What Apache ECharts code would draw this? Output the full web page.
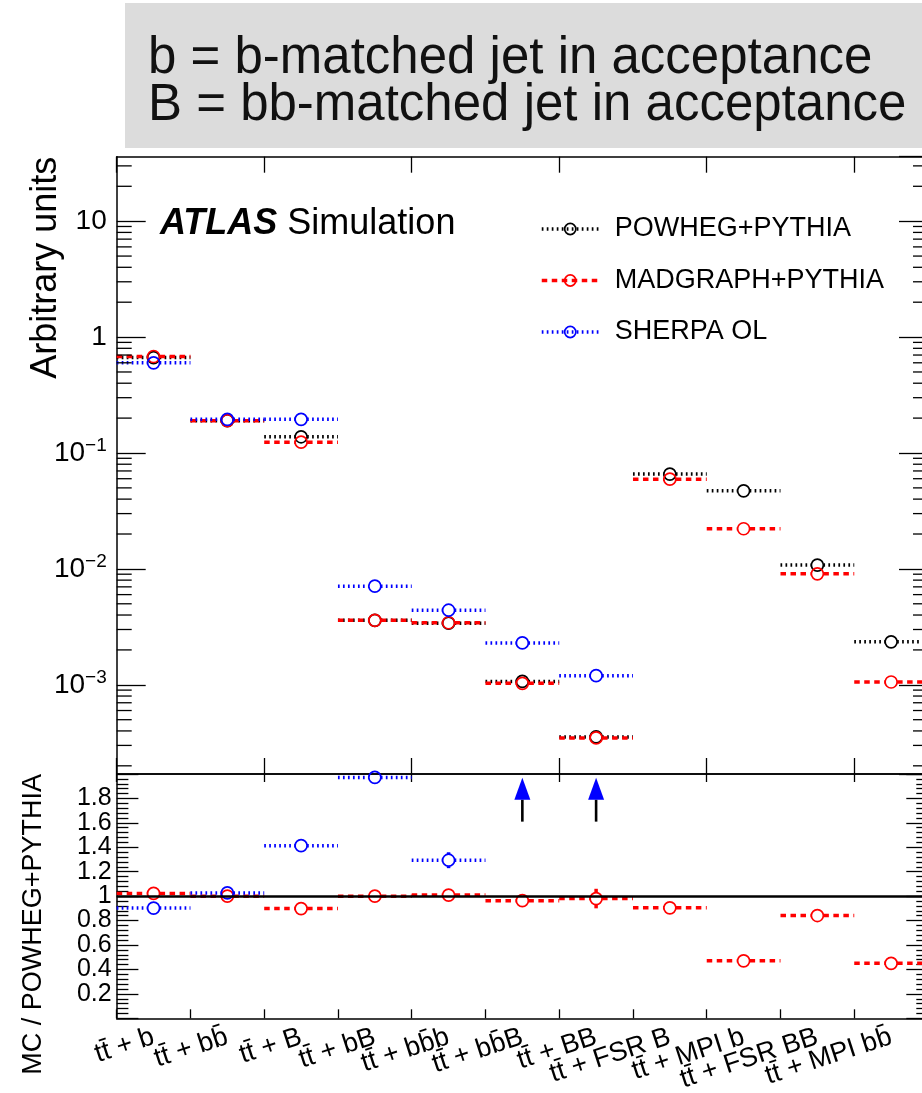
<!DOCTYPE html>
<html>
<head>
<meta charset="utf-8">
<script src="https://cdn.jsdelivr.net/npm/echarts@6/dist/echarts.min.js"></script>
<style>
  html, body { margin: 0; padding: 0; background: #fff; }
  #chart { width: 922px; height: 1093px; }
</style>
</head>
<body>
<div id="chart"></div>
<script>
// Event categories (x bins)
const categories = [
  'tt\u0304 + b', 'tt\u0304 + bb\u0304', 'tt\u0304 + B', 'tt\u0304 + bB',
  'tt\u0304 + bb\u0304b', 'tt\u0304 + bb\u0304B', 'tt\u0304 + BB',
  'tt\u0304 + FSR B', 'tt\u0304 + MPI b', 'tt\u0304 + FSR BB', 'tt\u0304 + MPI bb\u0304'
];

// Fractions per category (arbitrary units)
const powhegPythia   = [0.665, 0.190, 0.138, 0.0036, 0.0034,  0.00107, 0.000355, 0.0658, 0.0472, 0.01078, 0.00235];
const madgraphPythia = [0.680, 0.190, 0.124, 0.0036, 0.00343, 0.00103, 0.000348, 0.0595, 0.0222, 0.00907, 0.001057];
const sherpaOL       = [0.600, 0.195, 0.195, 0.0071, 0.0044,  0.0023,  0.0012,   null,   null,   null,    null];

// Uncertainties on the MC / POWHEG+PYTHIA ratio
const madgraphRatioErr = [0.01, 0.01, 0.01, 0.01, 0.01, 0.02, 0.08, 0.01, 0.01, 0.01, 0.01];
const sherpaRatioErr   = [0.01, 0.01, 0.02, 0.05, 0.065, 0.05, 0.05, 0, 0, 0, 0];

// Legend entries
const legendNames = ['POWHEG+PYTHIA', 'MADGRAPH+PYTHIA', 'SHERPA OL'];

// Banner lines
const bannerLines = ['b = b-matched jet in acceptance', 'B = bb-matched jet in acceptance'];

// Axis ranges
const logMin = 1.7e-4, logMax = 36;
const ratioMin = 0, ratioMax = 2, ratioStep = 0.2;

const FONT = 'Liberation Sans, Arial, Helvetica, sans-serif';
const BLACK = '#000000', RED = '#ff0000', BLUE = '#0000ff';
const DOTTED = [1.7, 3.3], DASHED = [5.5, 4.5];
const MARKER_R = 6;

// Panel geometry
const GX = 116.7, GW = 811.3;
const TOP_Y = 156.7, TOP_H = 617.3;
const RAT_Y = 774, RAT_H = 244.3;

// Arrow (off-scale ratio) geometry in ratio units
const arrowFrom = 1.61, arrowNeck = 1.79, arrowTip = 1.97;

function ratioOf(arr) {
  return arr.map((v, i) => (v == null ? null : v / powhegPythia[i]));
}

// Horizontal bin line with an open circle marker at the bin centre
function binRenderer(color, dash, lineWidth) {
  return function (params, api) {
    const v = api.value(1);
    if (v == null || isNaN(v)) return null;
    const i = api.value(0);
    const c = api.coord([i, v]);
    const half = api.size([1, 0])[0] / 2;
    const r = MARKER_R;
    const lineStyle = { stroke: color, lineWidth: lineWidth, lineDash: dash, lineCap: 'butt', fill: null };
    const children = [
      { type: 'line', shape: { x1: c[0] - half, y1: c[1], x2: c[0] - r, y2: c[1] }, style: lineStyle },
      { type: 'line', shape: { x1: c[0] + r, y1: c[1], x2: c[0] + half, y2: c[1] }, style: lineStyle }
    ];
    const err = api.value(2);
    if (err > 0) {
      const yHi = api.coord([i, v + err])[1];
      const yLo = api.coord([i, v - err])[1];
      const es = { stroke: color, lineWidth: lineWidth, fill: null };
      if (c[1] - yHi > r) children.push({ type: 'line', shape: { x1: c[0], y1: yHi, x2: c[0], y2: c[1] - r }, style: es });
      if (yLo - c[1] > r) children.push({ type: 'line', shape: { x1: c[0], y1: c[1] + r, x2: c[0], y2: yLo }, style: es });
    }
    children.push({ type: 'circle', shape: { cx: c[0], cy: c[1], r: r }, style: { stroke: color, lineWidth: 1.7, fill: 'none' } });
    return { type: 'group', children: children };
  };
}

// Log-axis minor ticks (2..9 x 10^k) on both sides of the upper panel
function logMinorTicks(params, api) {
  const cs = params.coordSys;
  const children = [];
  const st = { stroke: BLACK, lineWidth: 1.3 };
  for (let k = -5; k <= 2; k++) {
    for (let m = 2; m <= 9; m++) {
      const v = m * Math.pow(10, k);
      if (v <= logMin || v >= logMax) continue;
      const y = api.coord([0, v])[1];
      children.push({ type: 'line', shape: { x1: cs.x, y1: y, x2: cs.x + 15, y2: y }, style: st });
      children.push({ type: 'line', shape: { x1: cs.x + cs.width, y1: y, x2: cs.x + cs.width - 15, y2: y }, style: st });
    }
  }
  return { type: 'group', children: children };
}

// Arrow for ratios above the panel range
function arrowRenderer(params, api) {
  const i = api.value(0);
  const base = api.coord([i, arrowFrom]);
  const neck = api.coord([i, arrowNeck]);
  const tip = api.coord([i, arrowTip]);
  return {
    type: 'group',
    children: [
      { type: 'line', shape: { x1: base[0], y1: base[1], x2: neck[0], y2: neck[1] }, style: { stroke: BLACK, lineWidth: 2.6 } },
      { type: 'polygon', shape: { points: [[tip[0], tip[1]], [neck[0] - 8, neck[1]], [neck[0] + 8, neck[1]]] }, style: { fill: BLUE } }
    ]
  };
}

function logLabel(v) {
  const e = Math.round(Math.log10(v));
  if (e === 0) return '{base|1}';
  if (e === 1) return '{base|10}';
  return '{base|10}{sup|' + (e < 0 ? '\u2212' : '') + Math.abs(e) + '}';
}

const madRatio = ratioOf(madgraphPythia);
const sherpaRatio = ratioOf(sherpaOL);

const axisLineStyle = { color: BLACK, width: 1.5 };
const tickStyle = { color: BLACK, width: 1.3 };

const catAxisBase = {
  type: 'category',
  data: categories,
  boundaryGap: true,
  axisLine: { show: true, onZero: false, lineStyle: axisLineStyle },
  axisTick: { show: true, inside: true, alignWithLabel: false, lineStyle: tickStyle },
  axisLabel: { show: false },
  splitLine: { show: false }
};

const option = {
  animation: false,
  backgroundColor: '#ffffff',
  textStyle: { fontFamily: FONT, color: BLACK },
  title: {
    left: 160, top: 204, padding: 0,
    text: '{a|ATLAS}{b| Simulation}',
    textStyle: {
      fontWeight: 'normal',
      rich: {
        a: { fontFamily: FONT, fontSize: 36, fontWeight: 'bold', fontStyle: 'italic', color: BLACK, lineHeight: 40 },
        b: { fontFamily: FONT, fontSize: 36, fontWeight: 'normal', color: BLACK, lineHeight: 40 }
      }
    }
  },
  legend: {
    left: 540, top: 214, orient: 'vertical', padding: 0,
    itemWidth: 57, itemHeight: 14, itemGap: 21.5,
    selectedMode: false,
    textStyle: { fontFamily: FONT, fontSize: 27, color: BLACK, padding: [0, 0, 0, 11], lineHeight: 30 },
    data: [
      { name: legendNames[0], itemStyle: { color: 'rgba(0,0,0,0)', borderColor: BLACK, borderWidth: 1.7 },
        lineStyle: { color: BLACK, width: 3.5, type: DOTTED, cap: 'butt' } },
      { name: legendNames[1], itemStyle: { color: 'rgba(0,0,0,0)', borderColor: RED, borderWidth: 1.7 },
        lineStyle: { color: RED, width: 3.5, type: DASHED, cap: 'butt' } },
      { name: legendNames[2], itemStyle: { color: 'rgba(0,0,0,0)', borderColor: BLUE, borderWidth: 1.7 },
        lineStyle: { color: BLUE, width: 3.5, type: DOTTED, cap: 'butt' } }
    ]
  },
  graphic: [
    { type: 'rect', left: 125, top: 3, z: -10, shape: { width: 810, height: 145 }, style: { fill: '#dcdcdc' } },
    { type: 'text', x: 148, y: 59,
      style: { text: bannerLines[0], font: '51px ' + FONT, fill: '#111', verticalAlign: 'middle', align: 'left' } },
    { type: 'text', x: 148, y: 106,
      style: { text: bannerLines[1], font: '51px ' + FONT, fill: '#111', verticalAlign: 'middle', align: 'left' } }
  ],
  grid: [
    { left: GX, top: TOP_Y, width: GW, height: TOP_H, containLabel: false, outerBoundsMode: 'none' },
    { left: GX, top: RAT_Y, width: GW, height: RAT_H, containLabel: false, outerBoundsMode: 'none' }
  ],
  xAxis: [
    Object.assign({}, catAxisBase, { gridIndex: 0, position: 'bottom', axisTick: Object.assign({}, catAxisBase.axisTick, { length: 16 }) }),
    Object.assign({}, catAxisBase, { gridIndex: 0, position: 'top', axisTick: Object.assign({}, catAxisBase.axisTick, { length: 16 }) }),
    Object.assign({}, catAxisBase, {
      gridIndex: 1, position: 'bottom',
      axisTick: Object.assign({}, catAxisBase.axisTick, { length: 9 }),
      axisLabel: { show: true, interval: 0, rotate: 18, margin: 18, fontFamily: FONT, fontSize: 27, color: BLACK, hideOverlap: false }
    }),
    Object.assign({}, catAxisBase, { gridIndex: 1, position: 'top', axisTick: Object.assign({}, catAxisBase.axisTick, { length: 8 }) })
  ],
  yAxis: [
    {
      gridIndex: 0, type: 'log', logBase: 10, min: logMin, max: logMax, position: 'left',
      axisLine: { show: true, lineStyle: axisLineStyle },
      axisTick: { show: true, inside: true, length: 29, lineStyle: tickStyle },
      splitLine: { show: false },
      axisLabel: {
        show: true, margin: 10, showMinLabel: false, showMaxLabel: false,
        formatter: logLabel,
        rich: {
          base: { fontFamily: FONT, fontSize: 28, color: BLACK },
          sup: { fontFamily: FONT, fontSize: 19, color: BLACK, padding: [0, 0, 14, 0] }
        }
      },
      name: 'Arbitrary units', nameLocation: 'end', nameGap: 0, nameRotate: 90,
      nameTextStyle: { fontFamily: FONT, fontSize: 36, color: BLACK, align: 'right', verticalAlign: 'bottom', padding: [0, 0, 53, 0] }
    },
    {
      gridIndex: 0, type: 'log', logBase: 10, min: logMin, max: logMax, position: 'right',
      axisLine: { show: true, lineStyle: axisLineStyle },
      axisTick: { show: true, inside: true, length: 29, lineStyle: tickStyle },
      splitLine: { show: false }, axisLabel: { show: false }
    },
    {
      gridIndex: 1, type: 'value', min: ratioMin, max: ratioMax, interval: ratioStep, position: 'left',
      axisLine: { show: true, lineStyle: axisLineStyle },
      axisTick: { show: true, inside: true, length: 21.7, lineStyle: tickStyle },
      minorTick: { show: true, splitNumber: 5, length: 11.7, lineStyle: tickStyle },
      splitLine: { show: false }, minorSplitLine: { show: false },
      axisLabel: {
        show: true, margin: 5, showMinLabel: false, showMaxLabel: false,
        fontFamily: FONT, fontSize: 25, color: BLACK,
        formatter: (v) => String(Math.round(v * 10) / 10)
      },
      name: 'MC / POWHEG+PYTHIA', nameLocation: 'end', nameGap: 0, nameRotate: 90,
      nameTextStyle: { fontFamily: FONT, fontSize: 27, color: BLACK, align: 'right', verticalAlign: 'bottom', padding: [0, 0, 70, 0] }
    },
    {
      gridIndex: 1, type: 'value', min: ratioMin, max: ratioMax, interval: ratioStep, position: 'right',
      axisLine: { show: true, lineStyle: axisLineStyle },
      axisTick: { show: true, inside: true, length: 21.7, lineStyle: tickStyle },
      minorTick: { show: true, splitNumber: 5, length: 11.7, lineStyle: tickStyle },
      splitLine: { show: false }, minorSplitLine: { show: false },
      axisLabel: { show: false }
    }
  ],
  series: [
    // legend carriers
    { type: 'line', name: legendNames[0], xAxisIndex: 0, yAxisIndex: 0, data: [], symbol: 'circle' },
    { type: 'line', name: legendNames[1], xAxisIndex: 0, yAxisIndex: 0, data: [], symbol: 'circle' },
    { type: 'line', name: legendNames[2], xAxisIndex: 0, yAxisIndex: 0, data: [], symbol: 'circle' },
    {
      type: 'custom', name: 'log-minor-ticks', xAxisIndex: 0, yAxisIndex: 0, silent: true, z: 5,
      data: [[0, 1]], renderItem: logMinorTicks
    },
    {
      type: 'custom', name: 'powheg-bins', xAxisIndex: 0, yAxisIndex: 0, silent: true, z: 2,
      data: powhegPythia.map((v, i) => [i, v, 0]), renderItem: binRenderer(BLACK, DOTTED, 3.5)
    },
    {
      type: 'custom', name: 'madgraph-bins', xAxisIndex: 0, yAxisIndex: 0, silent: true, z: 3,
      data: madgraphPythia.map((v, i) => [i, v, 0]), renderItem: binRenderer(RED, DASHED, 3.5)
    },
    {
      type: 'custom', name: 'sherpa-bins', xAxisIndex: 0, yAxisIndex: 0, silent: true, z: 4,
      data: sherpaOL.map((v, i) => [i, v, 0]), renderItem: binRenderer(BLUE, DOTTED, 3.5)
    },
    {
      type: 'custom', name: 'madgraph-ratio', xAxisIndex: 2, yAxisIndex: 2, silent: true, z: 3,
      data: madRatio.map((v, i) => [i, v, madgraphRatioErr[i]]), renderItem: binRenderer(RED, DASHED, 3.5),
      markLine: {
        silent: true, symbol: 'none', label: { show: false },
        lineStyle: { color: BLACK, width: 2.6, type: 'solid' },
        data: [{ yAxis: 1 }]
      }
    },
    {
      type: 'custom', name: 'sherpa-ratio', xAxisIndex: 2, yAxisIndex: 2, silent: true, z: 4,
      data: sherpaRatio.map((v, i) => [i, (v != null && v <= ratioMax) ? v : null, sherpaRatioErr[i]]),
      renderItem: binRenderer(BLUE, DOTTED, 3.5)
    },
    {
      type: 'custom', name: 'sherpa-offscale', xAxisIndex: 2, yAxisIndex: 2, silent: true, z: 4,
      data: sherpaRatio.map((v, i) => [i, v]).filter(d => d[1] != null && d[1] > ratioMax),
      renderItem: arrowRenderer
    }
  ]
};

const chart = echarts.init(document.getElementById('chart'), null, { renderer: 'canvas' });
chart.setOption(option);
</script>
</body>
</html>
